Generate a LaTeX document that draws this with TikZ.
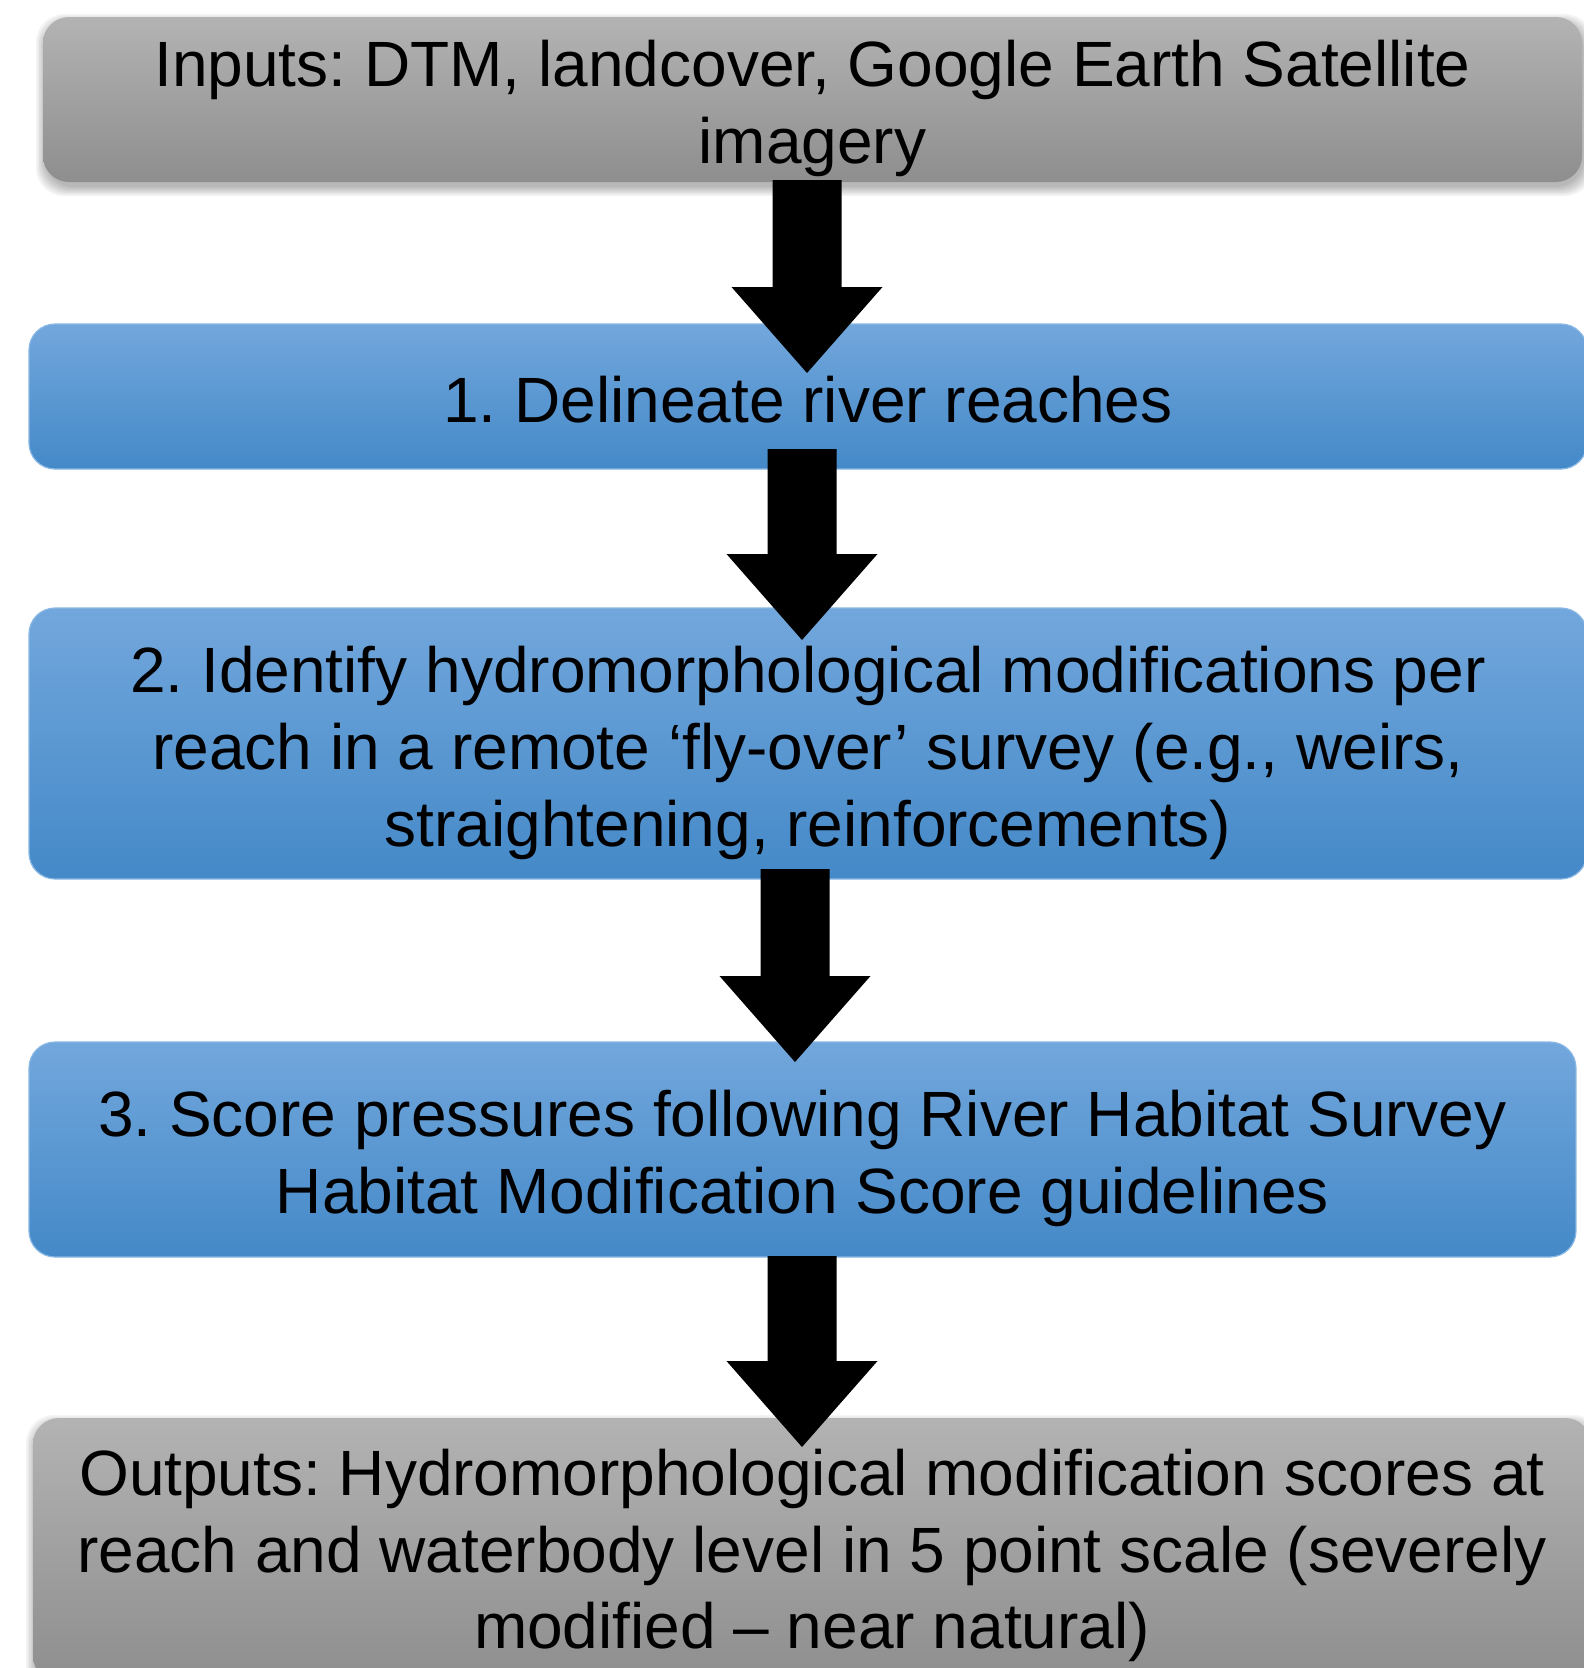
\documentclass[tikz,border=0pt]{standalone}
\usepackage{fontspec}
\setmainfont{Liberation Sans}
\usetikzlibrary{calc}
\frenchspacing

\definecolor{greytop}{RGB}{179,179,179}
\definecolor{greybot}{RGB}{142,142,142}
\definecolor{bluetop}{RGB}{114,167,220}
\definecolor{bluemid}{RGB}{84,153,218}
\definecolor{bluebot}{RGB}{68,137,200}
\definecolor{blueedge}{RGB}{138,184,228}

% block arrow from a shaft-top coordinate down to a tip coordinate
\newcommand\blockarrow[2]{%
  \fill[black] let \p1=(#1), \p2=(#2) in
    (\x1-34.5pt,\y1) -- (\x1+34.5pt,\y1) -- (\x1+34.5pt,\y2+86pt)
    -- (\x1+75.5pt,\y2+86pt) -- (\x2,\y2) -- (\x1-75.5pt,\y2+86pt)
    -- (\x1-34.5pt,\y2+86pt) -- cycle;}

% soft shadow under a box given by its corners
\newcommand\softshadow[4]{%
  \foreach \s in {0,1.5,...,9}{
    \fill[black,opacity=0.045,rounded corners=28pt]
      (#1-\s+2,#2-\s+6) rectangle (#3+\s+2,#4+\s+5);}}

\begin{document}
\begin{tikzpicture}[x=1pt,y=-1pt,
  box/.style={rounded corners=26pt, inner sep=0pt, align=center,
    text=black, font=\fontsize{64}{76.8}\selectfont},
  greybox/.style={box, top color=greytop, bottom color=greybot},
  bluebox/.style={box, top color=bluetop, middle color=bluemid,
    bottom color=bluebot, draw=blueedge, line width=1.2pt}]

\useasboundingbox (0,0) rectangle (1583,1668);
\fill[white] (0,0) rectangle (1583,1668);

% shadows under the grey boxes
\softshadow{43}{17}{1582}{182}
\softshadow{33}{1418}{1591}{1682}

% boxes
\node[greybox, minimum width=1539pt, minimum height=165pt, text height=141pt] (in) at (812.5,99.5)
  {Inputs: DTM, landcover, Google Earth Satellite\\imagery};
\node[bluebox, minimum width=1558pt, minimum height=145pt, text height=53pt] (s1) at (808,396.5)
  {1. Delineate river reaches};
\node[bluebox, minimum width=1558pt, minimum height=271pt, text height=219pt] (s2) at (808,743.5)
  {2. Identify hydromorphological modifications per\\reach in a remote ‘fly-over’ survey (e.g., weirs,\\straightening, reinforcements)};
\node[bluebox, minimum width=1547pt, minimum height=215pt, text height=141pt] (s3) at (802.5,1149.5)
  {3. Score pressures following River Habitat Survey\\Habitat Modification Score guidelines};
\node[greybox, minimum width=1558pt, minimum height=264pt, text height=211pt] (out) at (812,1550)
  {Outputs: Hydromorphological modification scores at\\reach and waterbody level in 5 point scale (severely\\modified – near natural)};

% arrow ends
\coordinate (a1) at (807,180);   \coordinate (b1) at (807,373);
\coordinate (a2) at (802,449);   \coordinate (b2) at (802,640);
\coordinate (a3) at (795,869);   \coordinate (b3) at (795,1062);
\coordinate (a4) at (802,1256);  \coordinate (b4) at (802,1447);

\blockarrow{a1}{b1}
\blockarrow{a2}{b2}
\blockarrow{a3}{b3}
\blockarrow{a4}{b4}
\end{tikzpicture}
\end{document}
